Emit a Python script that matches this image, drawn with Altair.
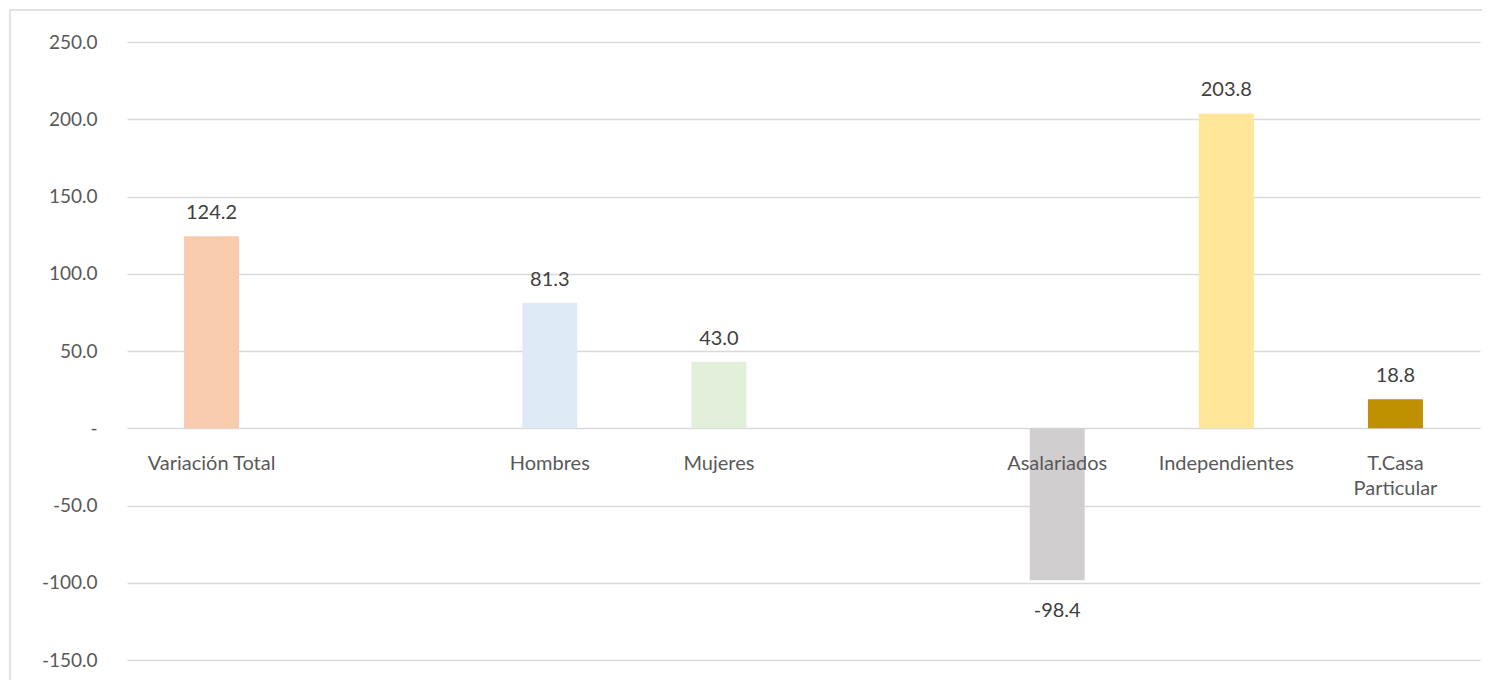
import altair as alt
import pandas as pd

categories = ["Variación Total", "Hombres", "Mujeres", "Asalariados", "Independientes", "T.Casa Particular"]
labels = ["Variación Total", "Hombres", "Mujeres", "Asalariados", "Independientes", "T.Casa\nParticular"]
values = [124.2, 81.3, 43.0, -98.4, 203.8, 18.8]
colors = ["#F8CBAD", "#DEEBF7", "#E2EFDA", "#D0CECE", "#FFE699", "#BF9000"]
slots = ["Variación Total", "gap1", "Hombres", "Mujeres", "gap2", "Asalariados", "Independientes", "T.Casa Particular"]
y_ticks = [-150, -100, -50, 0, 50, 100, 150, 200, 250]

df = pd.DataFrame({"cat": categories, "label": labels, "value": values,
                   "vlabel": [f"{v:.1f}" for v in values]})

FONT = "Lato"
W, H = 1353, 618

x_enc = alt.X("cat:N", scale=alt.Scale(domain=slots, paddingInner=0, paddingOuter=0), axis=None)
y_scale = alt.Scale(domain=[-150, 250], nice=False, zero=False)

base = alt.Chart(df)

bars = base.mark_bar(size=55).encode(
    x=x_enc,
    y=alt.Y("value:Q", scale=y_scale,
            axis=alt.Axis(values=y_ticks, title=None, grid=True, gridColor="#D9D9D9", gridWidth=1.3,
                          domain=False, ticks=False, labelPadding=30, labelFontSize=19,
                          labelColor="#595959", labelFont=FONT,
                          labelExpr="datum.value == 0 ? '-' : replace(format(datum.value, '.1f'), '\u2212', '-')")),
    y2=alt.datum(0),
    color=alt.Color("cat:N", scale=alt.Scale(domain=categories, range=colors), legend=None),
)

pos_labels = base.transform_filter("datum.value >= 0").mark_text(
    baseline="alphabetic", dy=-17, fontSize=20, font=FONT, color="#404040"
).encode(x=x_enc, y=alt.Y("value:Q", scale=y_scale), text="vlabel:N")

neg_labels = base.transform_filter("datum.value < 0").mark_text(
    baseline="alphabetic", dy=37, fontSize=20, font=FONT, color="#404040"
).encode(x=x_enc, y=alt.Y("value:Q", scale=y_scale), text="vlabel:N")

cat_labels = base.mark_text(
    baseline="top", dy=26, fontSize=20, font=FONT, color="#595959", lineBreak="\n", lineHeight=25
).encode(x=x_enc, y=alt.datum(0), text="label:N")

border = alt.Chart(pd.DataFrame({"a": [0]})).mark_rect(
    fill=None, stroke="#D9D9D9", strokeWidth=1.5, clip=False
).encode(x=alt.value(-117), x2=alt.value(1400), y=alt.value(-32), y2=alt.value(700))

chart = alt.layer(border, bars, pos_labels, neg_labels, cat_labels).properties(
    width=W, height=H,
    autosize=alt.AutoSizeParams(type="none"),
    padding={"left": 119, "top": 34, "right": 2, "bottom": 20},
).configure(background="white", view=alt.ViewConfig(stroke=None))

chart.save("out.html", embed_options={"renderer": "svg", "actions": False})
